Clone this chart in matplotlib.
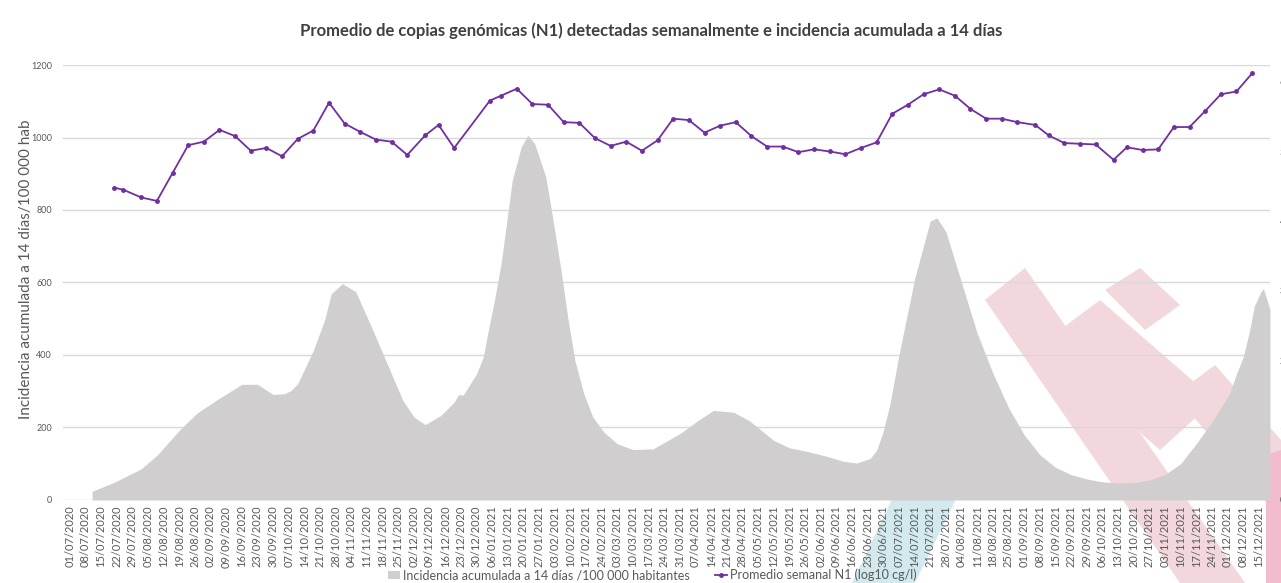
import matplotlib
matplotlib.use("Agg")
import matplotlib.pyplot as plt
import matplotlib.dates as mdates
from matplotlib.patches import Polygon
import numpy as np

plt.rcParams['font.family'] = ['Lato', 'DejaVu Sans']

start = np.datetime64('2020-07-01')

# incidencia acumulada 14 dias / 100 000 hab (dias desde 01/07/2020)
inc_day = [10, 20, 32, 39, 49, 57, 66, 77, 84, 91,
           96, 99, 102, 109, 114, 117, 122, 128, 135, 142,
           149, 154, 159, 166, 172, 174, 176, 182, 185, 187,
           190, 193, 196, 198, 202, 205, 208, 213, 216, 220,
           223, 226, 230, 234, 239, 245, 252, 261, 273, 281,
           288, 297, 304, 315, 322, 330, 339, 346, 352, 358,
           361, 364, 367, 371, 378, 385, 388, 392, 399, 406,
           413, 420, 427, 434, 441, 448, 455, 462, 469, 476,
           483, 490, 497, 504, 511, 519, 522, 525, 528, 530,
           533, 534, 535, 537]
inc_val = [24, 49, 86, 123, 192, 240, 277, 319, 319, 291,
           293, 302, 321, 413, 496, 569, 597, 574, 477, 376,
           275, 229, 208, 233, 270, 291, 289, 348, 394, 459,
           551, 652, 790, 882, 974, 1006, 983, 891, 781, 625,
           496, 385, 293, 229, 187, 155, 139, 141, 183, 219,
           247, 242, 219, 164, 144, 134, 120, 107, 102, 114,
           137, 190, 266, 400, 610, 770, 778, 740, 600, 460,
           350, 255, 180, 125, 90, 70, 58, 50, 47, 48,
           55, 70, 100, 155, 215, 294, 348, 394, 470, 535,
           575, 583, 565, 525]

# promedio semanal N1 (log10 cg/l)
n1_day = [20, 24, 32, 39, 46, 53, 60, 67, 74, 81,
          88, 95, 102, 109, 116, 123, 130, 137, 144, 151,
          159, 165, 172, 188, 193, 200, 207, 214, 221, 228,
          235, 242, 249, 256, 263, 270, 277, 284, 291, 298,
          305, 312, 319, 326, 333, 340, 347, 354, 361, 368,
          375, 382, 389, 396, 403, 410, 417, 424, 432, 438,
          445, 452, 459, 467, 473, 480, 487, 494, 501, 508,
          515, 522, 529]
n1_val = [4.48, 4.45, 4.34, 4.29, 4.69, 5.09, 5.14, 5.31, 5.22, 5.01,
          5.05, 4.93, 5.18, 5.30, 5.70, 5.40, 5.28, 5.17, 5.14, 4.95,
          5.23, 5.38, 5.05, 5.73, 5.80, 5.90, 5.68, 5.67, 5.42, 5.41,
          5.19, 5.08, 5.14, 5.01, 5.16, 5.47, 5.45, 5.27, 5.37, 5.42,
          5.22, 5.07, 5.07, 4.99, 5.03, 5.00, 4.96, 5.05, 5.13, 5.54,
          5.67, 5.82, 5.89, 5.80, 5.61, 5.47, 5.47, 5.42, 5.38, 5.23,
          5.12, 5.11, 5.10, 4.88, 5.06, 5.02, 5.03, 5.35, 5.35, 5.58,
          5.82, 5.86, 6.12]

inc_x = start + np.array(inc_day)
n1_x = start + np.array(n1_day)
ticks = start + np.arange(0, 533, 7)

W, H = 1281, 583
fig = plt.figure(figsize=(12.81, 5.83), dpi=100)

# logo de fondo (marca de agua), en pixeles
bg = fig.add_axes([0, 0, 1, 1], zorder=-1)
bg.set_xlim(0, W)
bg.set_ylim(H, 0)
bg.axis('off')
pink = '#f2d7dd'
bg.add_patch(Polygon([(852, 583), (915, 583), (985, 440), (925, 430)], color='#d2eaee', lw=0))
bg.add_patch(Polygon([(985, 300), (1025, 268), (1245, 583), (1180, 583)], color=pink, lw=0))
bg.add_patch(Polygon([(1040, 345), (1100, 300), (1215, 400), (1160, 450)], color=pink, lw=0))
bg.add_patch(Polygon([(1105, 290), (1140, 268), (1180, 305), (1145, 330)], color=pink, lw=0))
bg.add_patch(Polygon([(1175, 395), (1215, 365), (1281, 440), (1281, 520)], color=pink, lw=0))
bg.add_patch(Polygon([(1266, 455), (1281, 450), (1281, 583), (1266, 583)], color='#f3bccd', lw=0))

ax = fig.add_axes([0.0492, 0.1424, 0.9422, 0.7461])
ax.set_facecolor('none')

ax.fill_between(inc_x, inc_val, color='#d0cece', lw=0, zorder=2,
                label='Incidencia acumulada a 14 días /100 000 habitantes')
ax.set_ylim(0, 1200)
ax.set_yticks(range(0, 1201, 200))
ax.set_xlim(start - np.timedelta64(3, 'D'), start + np.timedelta64(537, 'D'))
ax.set_xticks(ticks)
ax.xaxis.set_major_formatter(mdates.DateFormatter('%d/%m/%Y'))
ax.tick_params(axis='x', labelrotation=90, labelsize=8, length=0, pad=4, colors='#595959')
ax.tick_params(axis='y', labelsize=6.5, length=0, pad=8, colors='#595959')
ax.grid(axis='y', color='#d9d9d9', lw=1, zorder=0)
for s in ax.spines.values():
    s.set_visible(False)

ax2 = ax.twinx()
ax2.plot(n1_x, n1_val, '-o', color='#7030a0', lw=1.3, ms=2.5, zorder=3,
         label='Promedio semanal N1 (log10 cg/l)')
ax2.set_ylim(0, 6.24)
ax2.set_yticks(range(0, 7))
ax2.tick_params(axis='y', labelsize=6.5, length=0, pad=7, colors='#595959')
for s in ax2.spines.values():
    s.set_visible(False)

fig.text(0.508, 0.948, 'Promedio de copias genómicas (N1) detectadas semanalmente e incidencia acumulada a 14 días',
         ha='center', va='center', fontsize=12, fontweight='bold', color='#404040')
fig.text(0.0205, 0.5386, 'Incidencia acumulada a 14 días/100 000 hab', rotation=90,
         ha='center', va='center', fontsize=11, color='#595959')

h1, l1 = ax.get_legend_handles_labels()
h2, l2 = ax2.get_legend_handles_labels()
fig.legend(h1 + h2, l1 + l2, loc='center', bbox_to_anchor=(0.509, 0.0137), ncol=2,
           frameon=False, fontsize=9, labelcolor='#595959', handlelength=1.0,
           handletextpad=0.2, columnspacing=2)

fig.savefig('out.png', dpi=100)
